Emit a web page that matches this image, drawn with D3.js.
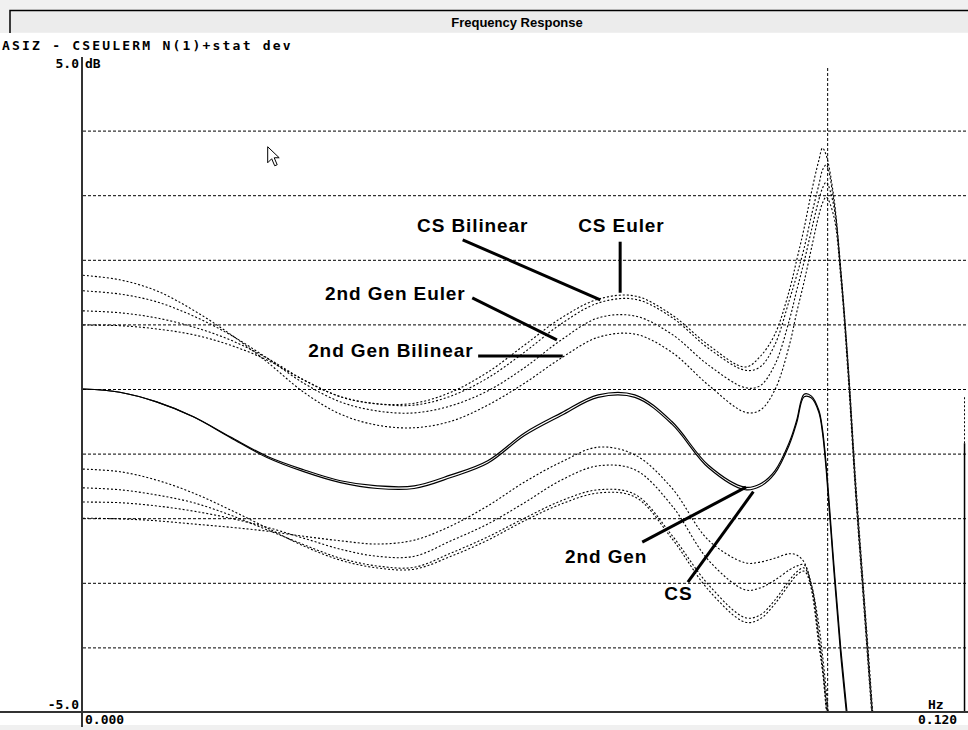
<!DOCTYPE html>
<html>
<head>
<meta charset="utf-8">
<script src="https://cdn.jsdelivr.net/npm/d3@7"></script>
<style>
  body { margin: 0; background: #fff; }
  svg { display: block; }
</style>
</head>
<body>
<div id="chart"></div>
<script>
// Frequency Response - 2nd Gen / CS curves with +/- stat dev bands
const freq = [0, 0.005, 0.010, 0.015, 0.020, 0.025, 0.030, 0.035, 0.040, 0.045, 0.050, 0.055, 0.060,
  0.065, 0.070, 0.075, 0.080, 0.085, 0.090, 0.092, 0.094, 0.096, 0.097, 0.098, 0.099, 0.100,
  0.1005, 0.101, 0.102, 0.103, 0.104, 0.105, 0.106, 0.107, 0.108];

// main responses (solid)
const gen2 = [0.00, -0.05, -0.20, -0.43, -0.74, -1.04, -1.25, -1.42, -1.50, -1.50, -1.33, -1.11, -0.68,
  -0.37, -0.09, -0.09, -0.50, -1.18, -1.52, -1.47, -1.27, -0.82, -0.48, -0.08, -0.11, -0.33,
  -0.63, -1.18, -2.65, -4.04, -5.20, -6.5, -6.5, -6.5, -6.5];
const cs = [0.00, -0.05, -0.20, -0.43, -0.75, -1.06, -1.28, -1.45, -1.54, -1.54, -1.37, -1.15, -0.72,
  -0.41, -0.13, -0.13, -0.54, -1.22, -1.56, -1.51, -1.31, -0.86, -0.52, -0.12, -0.14, -0.36,
  -0.68, -1.25, -2.75, -4.15, -5.30, -6.5, -6.5, -6.5, -6.5];

// upper band (+ stat dev)
const csEulerHi = [0.99, 0.98, 0.93, 0.84, 0.68, 0.45, 0.14, -0.12, -0.23, -0.22, -0.05, 0.26, 0.68,
  1.10, 1.39, 1.44, 1.15, 0.68, 0.34, 0.50, 0.84, 1.53, 2.00, 2.49, 3.05, 3.54,
  3.73, 3.62, 3.00, 1.84, 0.37, -1.41, -2.96, -4.50, -6.05];
const csBilinHi = [1.21, 1.18, 1.10, 0.96, 0.76, 0.48, 0.14, -0.12, -0.23, -0.25, -0.11, 0.17, 0.57,
  1.01, 1.33, 1.39, 1.11, 0.63, 0.29, 0.34, 0.68, 1.38, 1.76, 2.18, 2.69, 3.16,
  3.39, 3.47, 2.93, 1.81, 0.33, -1.49, -3.03, -4.58, -6.05];
const genEulerHi = [1.52, 1.47, 1.35, 1.13, 0.84, 0.48, 0.09, -0.20, -0.34, -0.37, -0.26, -0.03, 0.33,
  0.76, 1.10, 1.13, 0.85, 0.37, 0.02, 0.05, 0.37, 1.07, 1.53, 1.97, 2.46, 2.93,
  3.11, 3.20, 2.85, 1.76, 0.26, -1.56, -3.11, -4.66, -6.13];
const genBilinHi = [1.76, 1.69, 1.52, 1.22, 0.85, 0.42, -0.05, -0.39, -0.56, -0.60, -0.50, -0.25, 0.09,
  0.48, 0.80, 0.85, 0.57, 0.06, -0.36, -0.33, -0.02, 0.68, 1.19, 1.66, 2.18, 2.69,
  2.88, 2.97, 2.69, 1.69, 0.17, -1.64, -3.19, -4.74, -6.21];

// lower band (- stat dev)
const csEulerLo = [-2.00, -2.01, -2.04, -2.09, -2.14, -2.20, -2.28, -2.35, -2.40, -2.34, -2.12, -1.81, -1.44,
  -1.13, -0.90, -1.02, -1.53, -2.34, -2.69, -2.68, -2.62, -2.55, -2.57, -2.68, -3.03, -3.65,
  -4.12, -4.66, -5.90, -7, -7, -7, -7, -7, -7];
const csBilinLo = [-1.75, -1.76, -1.81, -1.89, -2.00, -2.14, -2.31, -2.48, -2.59, -2.59, -2.35, -2.09, -1.76,
  -1.41, -1.19, -1.25, -1.80, -2.65, -3.11, -3.08, -2.96, -2.80, -2.74, -2.72, -3.11, -3.96,
  -4.35, -4.81, -6.05, -7, -7, -7, -7, -7, -7];
const genEulerLo = [-1.53, -1.56, -1.64, -1.76, -1.95, -2.18, -2.41, -2.62, -2.74, -2.76, -2.54, -2.29, -2.00,
  -1.73, -1.56, -1.63, -2.26, -3.03, -3.54, -3.50, -3.27, -2.96, -2.83, -2.77, -3.03, -3.81,
  -4.27, -4.89, -6.13, -7, -7, -7, -7, -7, -7];
const genBilinLo = [-1.24, -1.28, -1.41, -1.61, -1.87, -2.15, -2.43, -2.65, -2.77, -2.79, -2.59, -2.34, -2.04,
  -1.78, -1.61, -1.67, -2.31, -3.11, -3.61, -3.56, -3.33, -3.02, -2.88, -2.82, -3.08, -3.89,
  -4.35, -4.97, -6.21, -7, -7, -7, -7, -7, -7];

// traces wrapping back up at the right edge of the window
const edgeFreq = 0.1198;
const edgeSolid = [-5, -0.84];
const edgeDotted = [-0.84, -0.12];

const gridValues = [4, 3, 2, 1, 0, -1, -2, -3, -4];
const yTickLabels = ['5.0', '-5.0'];
const xTickLabels = ['0.000', '0.120'];
const cursorFreq = 0.1012;

// callouts: label position, line from -> to (freq, dB)
const callouts = [
  { text: 'CS Bilinear', at: [0.0454, 2.43], from: [0.0516, 2.31], to: [0.0703, 1.38] },
  { text: 'CS Euler', at: [0.0673, 2.43], from: [0.0730, 2.28], to: [0.0730, 1.49] },
  { text: '2nd Gen Euler', at: [0.0329, 1.38], from: [0.0529, 1.41], to: [0.0644, 0.76] },
  { text: '2nd Gen Bilinear', at: [0.0306, 0.50], from: [0.0537, 0.51], to: [0.0652, 0.51] },
  { text: '2nd Gen', at: [0.0655, -2.69], from: [0.0760, -2.37], to: [0.0901, -1.52] },
  { text: 'CS', at: [0.0790, -3.27], from: [0.0822, -2.99], to: [0.0911, -1.59] }
];

const width = 968, height = 730;
const svg = d3.select('#chart').append('svg')
  .attr('width', width)
  .attr('height', height);

// window chrome
svg.append('rect').attr('width', width).attr('height', height).attr('fill', '#f0f0f0');
svg.append('rect').attr('x', 0).attr('y', 33).attr('width', width).attr('height', 692).attr('fill', '#fff');
svg.append('rect').attr('x', 10).attr('y', 10).attr('width', width - 10).attr('height', 22)
  .attr('fill', '#ececec');
svg.append('path').attr('d', 'M10,33V10.5H968').attr('fill', 'none').attr('stroke', '#000').attr('stroke-width', 1.5);
svg.append('text').attr('x', 517).attr('y', 27).attr('text-anchor', 'middle')
  .style('font-family', 'Liberation Sans, Arial, sans-serif').style('font-weight', 'bold')
  .style('font-size', '13px').text('Frequency Response');

const mono = 'DejaVu Sans Mono, monospace';
svg.append('text').attr('x', 2).attr('y', 50)
  .style('font-family', mono).style('font-weight', 'bold').style('font-size', '13px')
  .style('letter-spacing', '2.2px')
  .text('ASIZ - CSEULERM N(1)+stat dev');

// scales
const x = d3.scaleLinear().domain([0, 0.12]).range([83, 966]);
const y = d3.scaleLinear().domain([-5, 5]).range([712, 66]);

svg.append('clipPath').attr('id', 'plotClip')
  .append('rect').attr('x', 83).attr('y', 58).attr('width', width - 83).attr('height', 712 - 58);

// grid lines
svg.append('g')
  .attr('class', 'grid')
  .attr('transform', 'translate(83,0)')
  .call(d3.axisLeft(y).tickValues(gridValues).tickSize(-(width - 83)).tickFormat(''))
  .call(g => g.select('.domain').remove())
  .call(g => g.selectAll('line').attr('stroke', '#000').attr('stroke-width', 1)
    .attr('stroke-dasharray', '3,2'));

// cursor line
svg.append('line')
  .attr('x1', x(cursorFreq)).attr('x2', x(cursorFreq))
  .attr('y1', 68).attr('y2', y(-5))
  .attr('stroke', '#000').attr('stroke-dasharray', '3,2');

// curves
const line = d3.line()
  .x((d, i) => x(freq[i]))
  .y(d => y(d))
  .curve(d3.curveCatmullRom.alpha(0.5));

const series = [
  { values: csEulerHi, dash: '2,2' },
  { values: csBilinHi, dash: '2,2' },
  { values: genEulerHi, dash: '2,2' },
  { values: genBilinHi, dash: '2,2' },
  { values: csEulerLo, dash: '2,2' },
  { values: csBilinLo, dash: '2,2' },
  { values: genEulerLo, dash: '2,2' },
  { values: genBilinLo, dash: '2,2' },
  { values: gen2, dash: null },
  { values: cs, dash: null }
];

const curves = svg.append('g').attr('clip-path', 'url(#plotClip)');
series.forEach(s => {
  curves.append('path')
    .datum(s.values)
    .attr('fill', 'none')
    .attr('stroke', '#000')
    .attr('stroke-width', s.dash ? 1.1 : 1.2)
    .attr('stroke-dasharray', s.dash)
    .attr('d', line);
});

curves.append('line')
  .attr('x1', x(edgeFreq)).attr('x2', x(edgeFreq))
  .attr('y1', y(edgeSolid[0])).attr('y2', y(edgeSolid[1]))
  .attr('stroke', '#000').attr('stroke-width', 1.5);
curves.append('line')
  .attr('x1', x(edgeFreq)).attr('x2', x(edgeFreq))
  .attr('y1', y(edgeDotted[0])).attr('y2', y(edgeDotted[1]))
  .attr('stroke', '#000').attr('stroke-dasharray', '2,2');

// axes frame
svg.append('line').attr('x1', 82).attr('x2', 82).attr('y1', 57).attr('y2', 727)
  .attr('stroke', '#333').attr('stroke-width', 2);
svg.append('line').attr('x1', 0).attr('x2', width).attr('y1', y(-5)).attr('y2', y(-5))
  .attr('stroke', '#333').attr('stroke-width', 2);

// tick labels
const tickFont = g => g.style('font-family', mono).style('font-weight', 'bold').style('font-size', '13px');
svg.append('text').attr('x', 79).attr('y', 68).attr('text-anchor', 'end').call(tickFont).text(yTickLabels[0]);
svg.append('text').attr('x', 85).attr('y', 68).call(tickFont).text('dB');
svg.append('text').attr('x', 79).attr('y', 709).attr('text-anchor', 'end').call(tickFont).text(yTickLabels[1]);
svg.append('text').attr('x', x(0) + 2).attr('y', 724).call(tickFont).text(xTickLabels[0]);
svg.append('text').attr('x', 918).attr('y', 724).call(tickFont).text(xTickLabels[1]);
svg.append('text').attr('x', 928).attr('y', 709).call(tickFont).text('Hz');

// callouts
const notes = svg.append('g');
callouts.forEach(c => {
  notes.append('line')
    .attr('x1', x(c.from[0])).attr('y1', y(c.from[1]))
    .attr('x2', x(c.to[0])).attr('y2', y(c.to[1]))
    .attr('stroke', '#000').attr('stroke-width', 3);
  notes.append('text')
    .attr('x', x(c.at[0])).attr('y', y(c.at[1]))
    .style('font-family', 'Liberation Sans, Arial, sans-serif')
    .style('font-weight', 'bold')
    .style('font-size', '19px')
    .style('letter-spacing', '0.9px')
    .text(c.text);
});

// mouse pointer left in the screenshot
const pointerAt = [0.0251, 3.75];
svg.append('path')
  .attr('transform', `translate(${x(pointerAt[0])},${y(pointerAt[1])})`)
  .attr('d', 'M0,0V16L4,12L7,19L9.5,18L6.5,11H11.5Z')
  .attr('fill', '#fff').attr('stroke', '#000').attr('stroke-width', 1);
</script>
</body>
</html>
